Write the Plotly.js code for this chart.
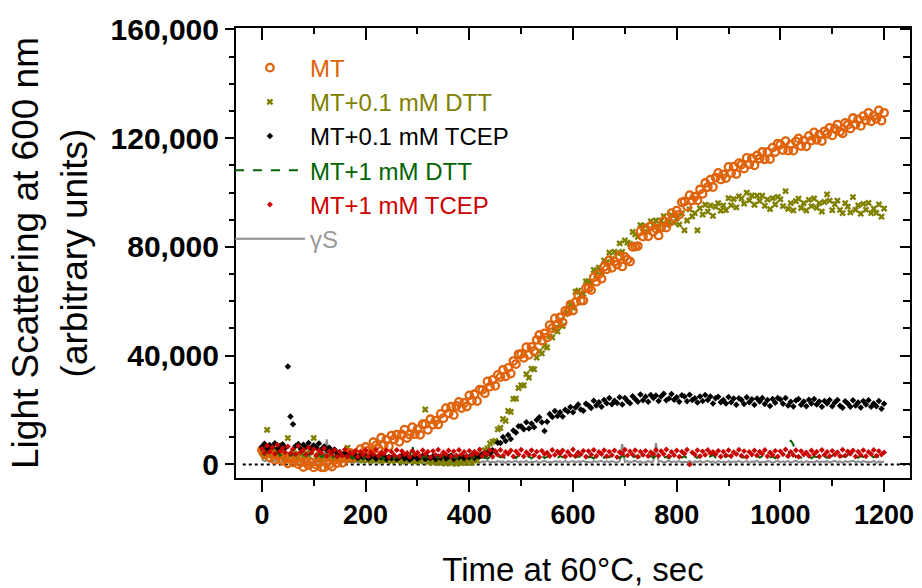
<!DOCTYPE html>
<html>
<head>
<meta charset="utf-8">
<script src="https://cdn.plot.ly/plotly-3.0.1.min.js"></script>
<style>html,body{margin:0;padding:0;background:#fff;}#chart{width:922px;height:588px;}</style>
</head>
<body>
<div id="chart"></div>
<script>
// Time points (sec)
var timeSec = [
0,5,10,15,20,25,30,35,40,45,
50,55,60,65,70,75,80,85,90,95,
100,105,110,115,120,125,130,135,140,145,
150,155,160,165,170,175,180,185,190,195,
200,205,210,215,220,225,230,235,240,245,
250,255,260,265,270,275,280,285,290,295,
300,305,310,315,320,325,330,335,340,345,
350,355,360,365,370,375,380,385,390,395,
400,405,410,415,420,425,430,435,440,445,
450,455,460,465,470,475,480,485,490,495,
500,505,510,515,520,525,530,535,540,545,
550,555,560,565,570,575,580,585,590,595,
600,605,610,615,620,625,630,635,640,645,
650,655,660,665,670,675,680,685,690,695,
700,705,710,715,720,725,730,735,740,745,
750,755,760,765,770,775,780,785,790,795,
800,805,810,815,820,825,830,835,840,845,
850,855,860,865,870,875,880,885,890,895,
900,905,910,915,920,925,930,935,940,945,
950,955,960,965,970,975,980,985,990,995,
1000,1005,1010,1015,1020,1025,1030,1035,1040,1045,
1050,1055,1060,1065,1070,1075,1080,1085,1090,1095,
1100,1105,1110,1115,1120,1125,1130,1135,1140,1145,
1150,1155,1160,1165,1170,1175,1180,1185,1190,1195,
1200];

// MT
var valMT = [
5300,3700,5200,2600,3500,1700,3300,3500,1400,2100,
400,2300,800,2100,100,800,-1000,700,-300,700,
-1100,-100,600,-1100,-1100,600,0,-800,1700,500,
1800,600,3000,2300,4200,2500,3900,3500,5600,3600,
6400,5100,4200,8200,7000,5800,9800,7100,9100,6700,
10600,9200,10900,8300,11000,12800,9700,11000,13700,11100,
12900,10900,14800,14800,12700,16600,14600,16100,14700,18600,
17000,20700,18800,21200,18200,21500,23000,20700,22600,21300,
25400,23400,25800,23300,27500,27400,26200,30500,28600,31100,
28900,32900,32100,34800,32400,35500,33400,38000,36900,40500,
40600,39200,43100,40300,43200,41700,45800,47600,45500,48200,
46700,51200,50100,53700,51600,54100,52300,56500,56100,58800,
56600,59700,62100,60200,60300,64800,64800,64100,68800,67200,
69900,68300,72700,71800,75100,72300,74600,73500,76600,72800,
76300,75300,74600,80000,80100,80300,85700,83800,86600,83900,
87600,85600,86700,84200,87100,89500,87100,89000,92400,90700,
93300,91900,96400,96700,94900,99000,97100,98500,97100,101100,
99500,103500,102000,104700,102000,105500,107200,104800,106700,105300,
109400,107200,109500,106800,110800,110300,108800,112700,110400,112500,
110000,113600,112500,114900,112200,114900,112300,116500,114900,118000,
117600,115600,118900,115400,117600,115400,118800,119900,117100,119100,
117000,120800,119100,122100,119400,121300,118900,122500,121600,123800,
121000,123400,125000,122400,121800,125600,124900,123500,127400,125000,
126900,124500,128100,126600,129300,126200,128200,127100,130200,126400,
129300];

// MT + 0.1 mM DTT
var valDTT01 = [
4300,2800,12700,3500,5100,2600,4400,3100,5300,2500,
9700,3300,4800,2200,3900,5000,2700,4100,3200,4600,
9700,2400,3600,1800,3000,2100,3700,1600,2800,2000,
3100,1700,2600,6100,2200,1500,2900,1900,2400,1400,
2600,1800,1300,2300,1600,2700,1200,2000,1500,2400,
1100,1900,1400,2200,1000,1700,2100,1200,1800,900,
1500,1100,1800,20200,800,1300,600,1400,900,500,
1000,300,800,400,1200,200,700,500,1100,600,
1300,600,2100,1400,3300,3600,5200,5900,7700,8400,
8600,12900,13400,16700,16000,19700,19300,24100,24200,28100,
29100,29100,33200,31900,35200,35000,39300,41600,40800,43600,
43000,47100,46700,50100,48900,51600,50900,55300,55900,58900,
57600,63500,63900,62300,62700,67300,67400,66800,71500,69800,
72400,70700,75000,74400,77900,75500,78200,77700,81300,78200,
82400,81600,81100,85500,84600,83700,88000,85500,87800,85400,
89400,88000,89700,87000,89600,91300,88100,89200,91700,88900,
90500,88200,92300,86100,89700,93800,91200,92400,86100,94200,
91900,95500,93000,95200,91400,94700,96100,93300,95200,93500,
97900,95300,97600,94500,98600,97800,95900,99900,97100,98900,
95500,98800,96900,98800,95100,97400,93900,97900,95600,98400,
97500,95000,100500,94000,96100,93400,96800,97700,94300,96100,
93400,97300,95000,97800,94400,96100,93000,96500,99300,97000,
93500,95700,97000,93600,92400,96100,94800,92700,98300,93600,
95300,92200,95800,93700,96200,92400,94100,92500,95600,91100,
94100];

// MT + 0.1 mM TCEP
var valTCEP01 = [
6500,7600,5800,7100,6300,7800,5900,6900,7400,6100,
36000,17600,14800,6800,7500,5700,7200,6400,7900,6000,
7000,6200,7700,5600,6600,5300,6100,4700,5500,4200,
4600,3500,4100,3100,3800,2800,3500,2400,3300,2600,
3000,2200,2800,3400,2100,2900,2500,3200,1900,2700,
2300,3100,2000,2600,3300,2200,2800,1800,2500,3000,
2100,2700,3200,2000,2600,2300,3000,1900,2800,2400,
3100,2200,2700,3300,2000,2900,2500,3400,2300,3000,
2600,3500,2400,3200,2900,3700,3100,4300,3800,5200,
4700,8000,7900,10100,8600,10800,9300,12500,11700,14000,
14000,12900,15500,13200,15000,13700,16300,17300,15500,12300,
15700,18500,17400,19600,17800,19200,17600,20100,19500,21100,
19200,20900,22000,20200,19700,22300,21700,20700,23400,21700,
22900,21200,23700,22500,24400,22100,23400,22600,24700,22000,
24400,23300,22500,25100,24100,23000,25700,23600,24900,23000,
25500,24400,25300,23300,25000,26000,23600,24200,25900,23800,
24700,23000,25400,25000,23200,25600,23700,24300,22800,25000,
23300,25500,23700,25000,22400,24300,24900,22900,23700,22400,
24800,22900,24200,21900,24300,23700,22200,24700,22900,24000,
21900,24200,23100,24400,22200,23700,21500,24100,22700,24400,
23900,22300,24400,21700,23000,21300,23500,24100,21900,23100,
21400,23800,22400,24100,22000,23100,21200,23300,22400,23700,
21400,22800,23700,21600,20800,23200,22400,21200,23600,21700,
22800,20900,23300,22000,23600,21200,22400,21400,23300,20500,
22300];

// MT + 1 mM DTT
var valDTT1 = [
4200,3600,4600,3300,4100,3800,4500,3200,3900,3500,
4300,3100,3800,3400,4000,2900,3700,3300,3900,2800,
3500,3000,3600,2700,3300,2900,3400,2500,3100,2800,
3300,2400,3000,2700,3200,2300,2900,2600,3100,2200,
2800,2500,3000,2100,2700,2400,2900,2000,2600,2300,
3000,2200,2700,2500,3100,2100,2800,2400,7300,2300,
2900,2200,2600,3000,2300,2800,2100,2700,2500,3000,
2400,2800,2100,2900,2500,2300,3000,2200,2700,2600,
3100,2300,2800,2500,3200,2400,2900,2100,2700,3000,
2400,3200,2600,2900,2200,3100,2500,2800,2300,3300,
2600,3000,2400,2900,2200,3200,2700,2500,3100,2300,
2800,3300,2500,2900,2300,3100,2600,3400,2400,2800,
3200,2500,3000,2300,2900,3300,2600,2800,2200,3100,
2700,3200,2400,3000,2600,3400,2500,2900,2300,3100,
2800,2400,3300,2600,3000,2300,2900,3200,2500,2700,
3100,2400,3000,2700,3300,2500,2800,2200,3100,2600,
2900,3400,2500,3000,2300,3200,2700,2900,2400,3300,
2600,3100,2400,2800,3500,2500,3000,2300,2900,2700,
3300,2600,3000,2400,3200,2800,2500,3100,2300,2900,
2700,3200,2500,3000,2400,3300,2600,2900,2300,3100,
2800,2500,3000,2600,8900,7300,2700,3200,2400,3000,
2600,3100,2300,2900,2700,3300,2500,3000,2400,2800,
3200,2600,2900,2300,3100,2700,3400,2500,2800,3000,
2400,3100,2700,2900,2300,3200,2600,3300,2500,2900,
3000];

// MT + 1 mM TCEP
var valTCEP1 = [
5800,4200,6900,4700,6300,3900,7200,4800,6000,4400,
6600,4100,5700,3800,6800,4500,5400,3600,6200,4300,
5600,3400,5100,4200,5900,3100,4800,3700,5300,2900,
4600,3300,5500,3000,4400,3800,5000,2800,4700,3500,
5200,2900,4500,3600,5400,3100,4300,3900,5100,2700,
4600,3400,5300,3000,4900,3700,4200,2800,5000,3600,
4400,3100,5200,3800,4700,2600,4900,3500,5400,3200,
4500,3700,5100,2900,4800,3300,5300,3600,4600,3000,
5000,3400,4700,3900,5500,3100,4400,3600,5200,2800,
4900,3500,5300,3200,4600,3900,5100,2900,4800,3700,
5400,3000,4500,3600,5200,3300,4700,2700,5000,3800,
4300,3100,5300,3500,4800,3900,5100,2900,4600,3400,
5500,3200,4400,3700,5000,2800,4900,3600,5300,3100,
4600,3800,5200,3000,4700,3400,5100,2700,4500,3900,
5400,3300,4800,3600,5200,2900,4700,3500,5000,3100,
4500,3700,5300,3200,4900,3800,5500,3000,4600,3400,
5100,2800,4700,3900,5400,0,4400,3600,5200,3000,
4800,3500,5300,4100,4600,3700,5000,2900,4700,3400,
5200,3100,4500,3800,5400,3200,4900,2800,4600,3600,
5100,3300,4700,3900,5300,3000,4400,3500,5000,2900,
4800,3700,5500,3100,4600,3400,5200,2800,4900,3600,
4400,3200,5100,3800,4700,2900,5300,3500,4600,3000,
5000,3600,4500,3100,5400,3300,4800,3900,5100,2900,
4700,3500,5200,3000,4600,3800,5300,3200,4900,3600,
4400];

// gamma S
var valGammaS = [
1800,1200,1600,900,1500,1100,1700,800,1400,1000,
1500,900,1300,1100,1600,700,1200,1000,1400,800,
1300,900,1200,800,1500,9200,1100,700,1300,900,
1200,800,1400,600,1100,900,1300,700,1000,1200,
800,1300,600,1100,900,1400,700,1200,800,1000,
1300,600,1100,900,1200,700,1400,800,1000,600,
1200,900,700,1300,800,1100,600,1000,1200,700,
1100,800,1300,600,1000,900,1200,700,1100,800,
1300,700,1000,1200,600,1100,900,1400,800,1000,
700,1200,900,1100,600,1300,800,1000,1200,700,
1100,800,1300,700,1000,900,1200,600,1100,1300,
800,1000,700,1200,900,1100,600,1300,800,1000,
1200,700,1100,900,1300,800,1000,600,1200,900,
1000,1300,700,1100,800,1200,900,700,1100,7500,
900,1200,700,1000,1300,800,1100,600,1000,1200,
800,1100,7800,900,1200,700,1000,1300,800,1100,
900,1200,700,1000,800,1300,600,1100,900,1200,
700,1000,1300,800,1100,600,1200,900,1000,700,
1200,800,1100,900,1300,700,1000,1200,600,1100,
900,1300,700,1000,800,1200,1100,600,1000,1300,
800,1100,900,1200,700,1000,1300,800,1100,600,
1200,900,1000,700,1300,800,1100,900,1200,700,
1000,1300,800,1100,600,1200,900,1000,1300,800,
1100,700,1200,900,1000,800,1300,600,1100,900,
1000];

var seriesNames = ['MT', 'MT+0.1 mM DTT', 'MT+0.1 mM TCEP', 'MT+1 mM DTT', 'MT+1 mM TCEP', '\u03B3S'];
var xTickVals = [0, 200, 400, 600, 800, 1000, 1200];
var yTickVals = [0, 40000, 80000, 120000, 160000];

var C = {mt:'#E0620A', dtt01:'#808000', tcep01:'#000000', dtt1:'#006400', tcep1:'#CC0000', gs:'#8C8C8C'};
function lname(i, col){ return '<span style="color:' + col + '">' + seriesNames[i] + '</span>'; }

var traces = [
  {x: timeSec, y: valGammaS, type:'scatter', mode:'lines', name: lname(5, '#999999'),
   line:{color:C.gs, width:2}, legendrank:6, legendgroup:'g6'},
  {x: timeSec, y: valDTT01, type:'scatter', mode:'markers', name: lname(1, C.dtt01),
   marker:{symbol:'x', size:6, color:C.dtt01, line:{width:0}}, legendrank:2, legendgroup:'g2'},
  {x: timeSec, y: valMT, type:'scatter', mode:'markers', name: lname(0, C.mt),
   marker:{symbol:'circle-open', size:7.5, color:C.mt, line:{width:2.3, color:C.mt}}, legendrank:1, legendgroup:'g1'},
  {x: timeSec, y: valTCEP01, type:'scatter', mode:'markers', name: lname(2, C.tcep01),
   marker:{symbol:'diamond', size:5, color:C.tcep01}, legendrank:3, legendgroup:'g3'},
  {x: timeSec, y: valDTT1, type:'scatter', mode:'lines', name: lname(3, C.dtt1),
   line:{color:C.dtt1, width:2, dash:'dash'}, legendrank:4, legendgroup:'g4'},
  {x: timeSec, y: valTCEP1, type:'scatter', mode:'markers', name: lname(4, C.tcep1),
   marker:{symbol:'diamond', size:4.5, color:C.tcep1}, legendrank:5, legendgroup:'g5'},
  {x: [], y: [], xaxis:'x2', yaxis:'y2', type:'scatter', showlegend:false, hoverinfo:'skip'}
];

var FONT = 'Liberation Sans, Arial, sans-serif';
var tickFontX = {family:FONT, size:27, color:'#000', weight:'bold'};
var tickFontY = {family:FONT, size:30, color:'#000', weight:'bold'};

var layout = {
  width:922, height:588,
  margin:{l:236, r:12, t:28, b:110, pad:0},
  paper_bgcolor:'#fff', plot_bgcolor:'#fff',
  showlegend:true,
  legend:{x:-0.009, y:0.961, xanchor:'left', yanchor:'top', bgcolor:'rgba(0,0,0,0)',
    font:{family:FONT, size:24, color:'#000'}, itemwidth:70, tracegroupgap:0, borderwidth:0},
  xaxis:{range:[-50,1250], showline:true, linewidth:2, linecolor:'#000', mirror:false,
    ticks:'outside', ticklen:12, tickwidth:2, tickcolor:'#000',
    tickmode:'array', tickvals:xTickVals,
    minor:{dtick:100, tick0:0, ticklen:6, tickwidth:2, ticks:'outside', tickcolor:'#000', showgrid:false},
    showgrid:false, zeroline:false, tickfont:tickFontX, automargin:false,
    title:{text:'Time at 60\u00B0C, sec', font:{family:FONT, size:33, color:'#000'}, standoff:28}},
  yaxis:{range:[-5000,160500], showline:true, linewidth:2, linecolor:'#000',
    ticks:'outside', ticklen:9, tickwidth:2, tickcolor:'#000',
    tickmode:'array', tickvals:yTickVals, tickformat:',d',
    minor:{dtick:10000, tick0:0, ticklen:5, tickwidth:2, ticks:'outside', tickcolor:'#000', showgrid:false},
    showgrid:false, zeroline:false, tickfont:tickFontY, automargin:false,
    title:{text:'Light Scattering at 600 nm<br>(arbitrary units)', font:{family:FONT, size:37, color:'#000'}, standoff:12}},
  xaxis2:{overlaying:'x', side:'top', anchor:'y', range:[-50,1250], showline:true, linewidth:2, linecolor:'#000',
    ticks:'inside', ticklen:12, tickwidth:2, tickcolor:'#000', tickmode:'array', tickvals:xTickVals,
    minor:{dtick:100, tick0:0, ticklen:6, tickwidth:2, ticks:'inside', tickcolor:'#000', showgrid:false},
    showticklabels:false, showgrid:false, zeroline:false},
  yaxis2:{overlaying:'y', side:'right', anchor:'x', range:[-5000,160500], showline:true, linewidth:2, linecolor:'#000',
    ticks:'inside', ticklen:10, tickwidth:2, tickcolor:'#000', tickmode:'array', tickvals:yTickVals,
    minor:{dtick:10000, tick0:0, ticklen:7, tickwidth:2, ticks:'inside', tickcolor:'#000', showgrid:false},
    showticklabels:false, showgrid:false, zeroline:false},
  shapes:[{type:'line', xref:'paper', x0:0.01, x1:1, yref:'y', y0:0, y1:0, layer:'below',
    line:{color:'#000', width:2, dash:'dot'}}]
};

Plotly.newPlot('chart', traces, layout, {displayModeBar:false, staticPlot:true});
</script>
</body>
</html>
